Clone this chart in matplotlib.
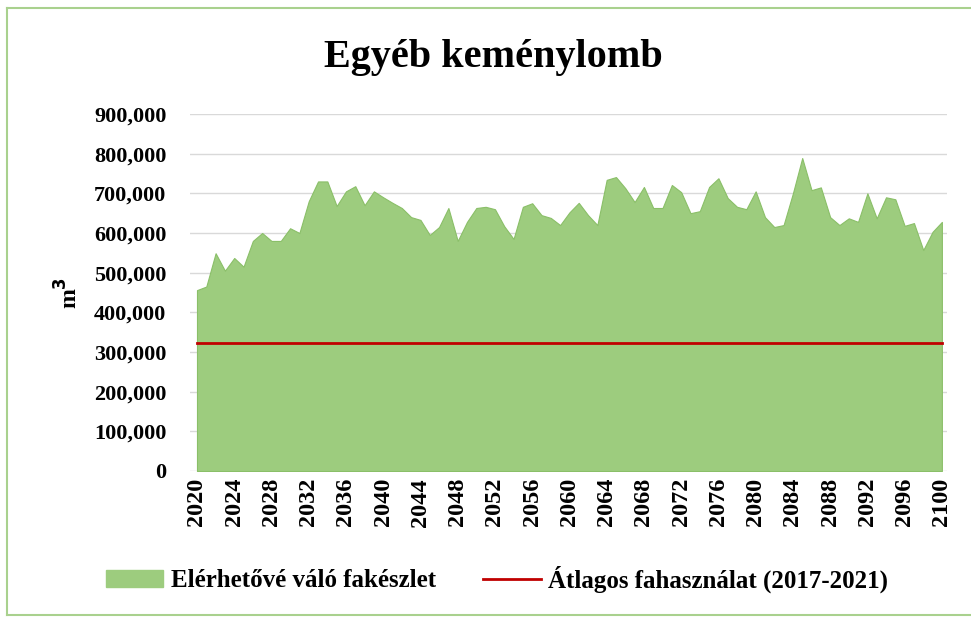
import matplotlib
matplotlib.use('Agg')
import matplotlib.pyplot as plt
from matplotlib.patches import Patch
from matplotlib.lines import Line2D
from matplotlib.ticker import FuncFormatter

plt.rcParams['font.family'] = ['Liberation Serif', 'DejaVu Serif']
plt.rcParams['font.weight'] = 'bold'

# data
years = list(range(2020, 2101))
stock = [456000, 465000, 549000, 505000, 537000, 515000, 580000, 600000, 580000, 580000,
         612000, 600000, 680000, 730000, 730000, 668000, 705000, 718000, 670000, 705000,
         690000, 676000, 663000, 640000, 633000, 595000, 615000, 663000, 580000, 628000,
         663000, 666000, 660000, 617000, 585000, 666000, 675000, 645000, 638000, 620000,
         652000, 676000, 645000, 620000, 734000, 741000, 713000, 678000, 716000, 663000,
         663000, 721000, 703000, 650000, 655000, 716000, 738000, 688000, 666000, 660000,
         705000, 640000, 615000, 620000, 700000, 789000, 708000, 715000, 640000, 620000,
         637000, 628000, 700000, 637000, 690000, 685000, 618000, 625000, 557000, 603000,
         628000]
avg_use = 322000
xticks = list(range(2020, 2101, 4))

title = 'Egyéb keménylomb'
label_stock = 'Elérhetővé váló fakészlet'
label_avg = 'Átlagos fahasználat (2017-2021)'

green = '#9DCC7E'
red = '#C00000'

fig = plt.figure(figsize=(9.71, 6.17), dpi=100)
ax = fig.add_axes([190 / 971, 146 / 617, 757 / 971, 357 / 617])

ax.fill_between(years, stock, 0, color=green, edgecolor='#8ABF68', linewidth=0.8, zorder=2)
ax.plot([years[0], years[-1]], [avg_use, avg_use], color=red, linewidth=2, zorder=3)

ax.set_xlim(2019.25, 2100.55)
ax.set_ylim(0, 900000)
ax.set_yticks(range(0, 900001, 100000))
ax.yaxis.set_major_formatter(FuncFormatter(lambda v, p: f'{int(v):,}'))
ax.set_xticks(xticks)
ax.set_xticklabels([str(y) for y in xticks], rotation=90)
ax.grid(axis='y', color='#D9D9D9', linewidth=1, zorder=0)
ax.set_axisbelow(True)
for s in ax.spines.values():
    s.set_visible(False)
ax.tick_params(axis='both', length=0)
ax.tick_params(axis='y', labelsize=16, pad=17)
ax.tick_params(axis='x', labelsize=17.5, pad=5)
ax.set_ylabel('m$^\\mathbf{3}$', fontsize=17, fontweight='bold', labelpad=8)

fig.text(493 / 971, 1 - 58 / 617, title, ha='center', va='center', fontsize=29, fontweight='bold')

handles = [Patch(facecolor=green, edgecolor=green),
           Line2D([0], [0], color=red, linewidth=2)]
fig.legend(handles, [label_stock, label_avg], loc='center', ncol=2,
           bbox_to_anchor=(497 / 971, 38 / 617), frameon=False, fontsize=18,
           handlelength=2.3, handleheight=0.7, handletextpad=0.3, columnspacing=1.9)

# thin green frame around the chart
bc = '#A9D18E'
fig.add_artist(Line2D([7 / 971, 7 / 971], [2 / 617, 1 - 8 / 617], color=bc, linewidth=1.5))
fig.add_artist(Line2D([7 / 971, 1], [1 - 8 / 617, 1 - 8 / 617], color=bc, linewidth=1.5))
fig.add_artist(Line2D([7 / 971, 1], [2 / 617, 2 / 617], color=bc, linewidth=1.5))

fig.savefig('out.png', dpi=100)
